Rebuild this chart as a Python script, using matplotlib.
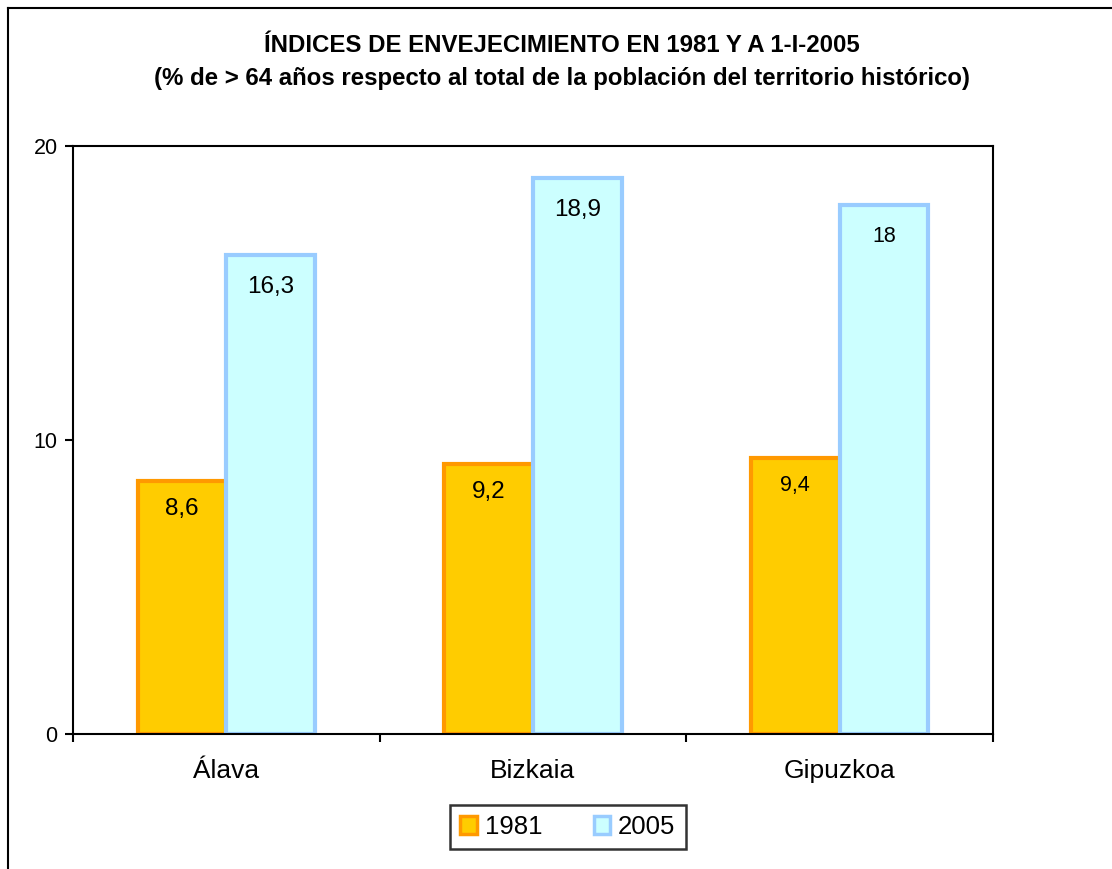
import matplotlib
matplotlib.use("Agg")
import matplotlib.pyplot as plt
from matplotlib.lines import Line2D
import numpy as np

categories = ["Álava", "Bizkaia", "Gipuzkoa"]
series_names = ["1981", "2005"]
values_1981 = [8.6, 9.2, 9.4]
values_2005 = [16.3, 18.9, 18.0]
labels_1981 = ["8,6", "9,2", "9,4"]
labels_2005 = ["16,3", "18,9", "18"]
yticks = [0, 10, 20]

plt.rcParams['font.family'] = ['Liberation Sans', 'DejaVu Sans']

W, H = 1112, 869
fig = plt.figure(figsize=(W / 100, H / 100), dpi=100)
fig.patch.set_facecolor("white")

# outer frame (cut off at right/bottom)
fig.add_artist(Line2D([8 / W, 8 / W], [1 - 8 / H, 0], transform=fig.transFigure, color="black", lw=1.5))
fig.add_artist(Line2D([8 / W, 1], [1 - 8 / H, 1 - 8 / H], transform=fig.transFigure, color="black", lw=1.5))

ax = fig.add_axes([73 / W, 1 - 734 / H, (993 - 73) / W, (734 - 146) / H])

x = np.arange(len(categories))
w = 0.289
ax.bar(x - w / 2, values_1981, w, color="#FFCC00", edgecolor="#FF9900", linewidth=3, zorder=2)
ax.bar(x + w / 2, values_2005, w, color="#CCFFFF", edgecolor="#99CCFF", linewidth=3, zorder=2)

sizes_1981 = [17.5, 17.5, 15.5]
sizes_2005 = [17.5, 17.5, 15.5]
for xi, v, lab, fs in zip(x - w / 2, values_1981, labels_1981, sizes_1981):
    ax.annotate(lab, (xi, v), xytext=(0, -28), textcoords="offset pixels", ha="center", va="center", fontsize=fs, zorder=3)
for xi, v, lab, fs in zip(x + w / 2, values_2005, labels_2005, sizes_2005):
    ax.annotate(lab, (xi, v), xytext=(0, -32), textcoords="offset pixels", ha="center", va="center", fontsize=fs, zorder=3)

ax.set_xlim(-0.5, 2.5)
ax.set_ylim(0, 20)
ax.set_yticks(yticks)
ax.set_yticklabels([str(t) for t in yticks], fontsize=15.5)
ax.set_xticks([-0.5, 0.5, 1.5, 2.5])
ax.set_xticklabels([])
ax.set_xticks(x, minor=True)
ax.set_xticklabels(categories, minor=True, fontsize=19)
ax.tick_params(axis="x", which="minor", length=0, pad=18)
ax.tick_params(axis="x", which="major", length=6, width=1.5, direction="out")
ax.tick_params(axis="y", which="major", length=6, width=1.5, direction="out", pad=5)
for s in ax.spines.values():
    s.set_linewidth(1.5)
    s.set_color("black")

fig.text(562 / W, 1 - 46 / H, "ÍNDICES DE ENVEJECIMIENTO EN 1981 Y A 1-I-2005",
         ha="center", va="center", fontsize=17.3, fontweight="bold")
fig.text(562 / W, 1 - 78 / H, "(% de > 64 años respecto al total de la población del territorio histórico)",
         ha="center", va="center", fontsize=17.3, fontweight="bold")

handles = [
    plt.Rectangle((0, 0), 1, 1, facecolor="#FFCC00", edgecolor="#FF9900", linewidth=2.5),
    plt.Rectangle((0, 0), 1, 1, facecolor="#CCFFFF", edgecolor="#99CCFF", linewidth=2.5),
]
leg = fig.legend(handles, series_names, loc="center", bbox_to_anchor=(568 / W, 1 - 827 / H),
                 ncol=2, fontsize=18.5, frameon=True, fancybox=False, handlelength=0.65, handleheight=0.65,
                 handletextpad=0.3, columnspacing=2.0, borderpad=0.4, borderaxespad=0)
leg.get_frame().set_edgecolor("black")
leg.get_frame().set_linewidth(1.8)

fig.savefig("out.png", dpi=100)
